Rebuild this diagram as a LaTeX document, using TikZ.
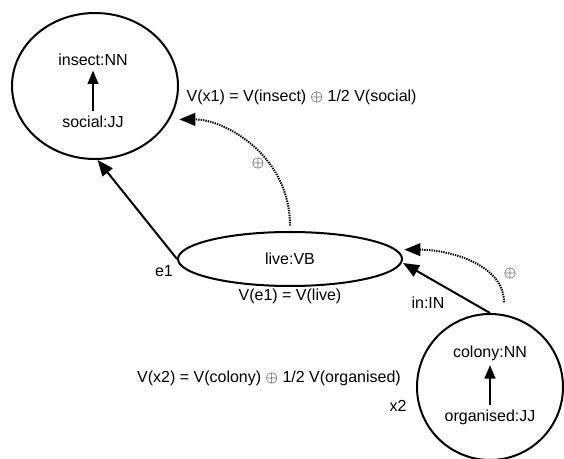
\documentclass[tikz,border=0pt]{standalone}
\usepackage{fontspec}
\setmainfont{Liberation Sans}
\usetikzlibrary{shapes.geometric,arrows.meta}

\begin{document}
\begin{tikzpicture}[x=0.75pt, y=-0.75pt,
    font=\fontsize{12}{14}\selectfont,
    blob/.style={draw=black, line width=1.5pt, ellipse, inner sep=0pt},
    arc/.style={-{Triangle[length=12pt, width=9.5pt]}, line width=1.5pt},
    inner/.style={-{Triangle[length=10pt, width=8pt]}, line width=1.5pt},
    dotarc/.style={arc, dash pattern=on 1pt off 0.8pt}
  ]
      \useasboundingbox (0,0) rectangle (564,459);

      % Ellipses
      \node[blob, minimum width=124.5pt, minimum height=109.5pt]
        (x1) at (95,86) {};
      \node[blob, minimum width=168pt, minimum height=40.5pt]
        (e1) at (290,259) {live:VB};
      \node[blob, circle, minimum size=109.5pt]
        (x2) at (490,387) {};

      % Words
      \node (insect) at (93,60) {insect:NN};
      \node (social) at (93,122) {social:JJ};
      \node (colony) at (490,353) {colony:NN};
      \node (organised) at (490,417) {organised:JJ};

      % Labels
      \node[anchor=west] (vx1) at (182,97)
        {V(x1) = V(insect) {\large$\oplus$} 1/2 V(social)};
      \node (vx2) at (269,378)
        {V(x2) = V(colony) {\large$\oplus$} 1/2 V(organised)};
      \node (ve1) at (290,296) {V(e1) = V(live)};
      \node (le1) at (164,271) {e1};
      \node (lx2) at (398,406) {x2};
      \node (lin) at (428,303) {in:IN};
      \node (plus1) at (258,164) {\large$\oplus$};
      \node (plus2) at (510,274) {\large$\oplus$};

      % Arcs
      \draw[inner] (social) -- (insect);
      \draw[inner] (organised) -- (colony);
      \draw[arc] (e1.west) -- (x1.-88);
      \draw[arc] (x2.north) -- ([yshift=-3pt]e1.east);

      \draw[dotarc, shorten >=7pt]
        ([yshift=4pt]e1.north) .. controls +(0,-70) and +(55,0) .. (x1.-24);
      \draw[dotarc]
        ([xshift=10.5pt, yshift=8pt]x2.north) .. controls +(0,-38) and +(45,0)
        .. ([xshift=1pt, yshift=7pt]e1.east);
    \end{tikzpicture}
\end{document}
